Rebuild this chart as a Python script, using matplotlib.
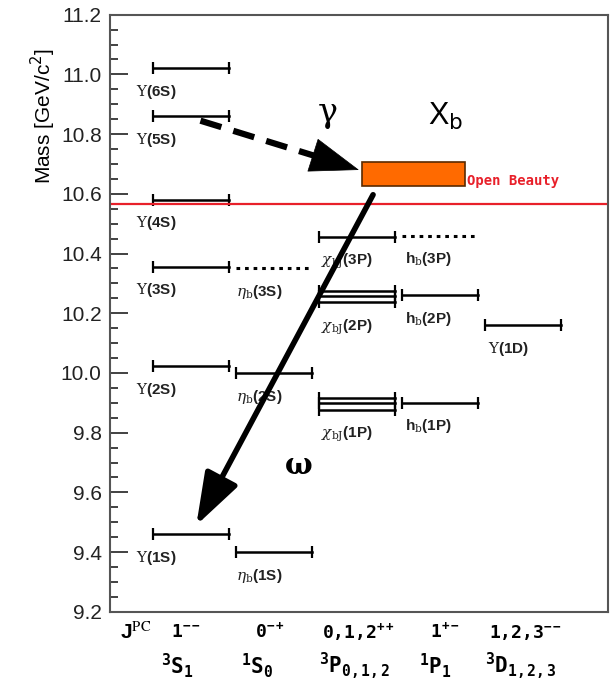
import numpy as np
import matplotlib as mpl
from matplotlib import pyplot as plt
from matplotlib.patches import Rectangle

mpl.rcParams['mathtext.fontset'] = 'stix'
mpl.rcParams['mathtext.rm'] = 'DejaVu Sans Mono:bold'
mpl.rcParams['mathtext.it'] = 'DejaVu Sans Mono:bold'
mpl.rcParams['mathtext.bf'] = 'DejaVu Sans Mono:bold'

# bottomonium levels (GeV/c^2)
ups_names = ['6S', '5S', '4S', '3S', '2S', '1S']
ups_mass = [11.02, 10.86, 10.58, 10.356, 10.023, 9.46]

eta_names = ['3S', '2S', '1S']
eta_mass = [10.35, 9.999, 9.40]
eta_dotted = [True, False, False]

chi_names = ['3P', '2P', '1P']
chi_mass = [[10.456], [10.275, 10.258, 10.238], [9.917, 9.899, 9.877]]

hb_names = ['3P', '2P', '1P']
hb_mass = [10.46, 10.26, 9.90]
hb_dotted = [True, False, False]

d_names = ['1D']
d_mass = [10.16]

open_beauty = 10.567
xb_mass = [10.627, 10.708]

jpc_labels = ['1$^{--}$', '0$^{-+}$', '0,1,2$^{++}$', '1$^{+-}$', '1,2,3$^{--}$']
term_labels = ['$^3$S$_1$', '$^1$S$_0$', '$^3$P$_{0,1,2}$', '$^1$P$_1$', '$^3$D$_{1,2,3}$']

# column layout
col_x0 = [0.52, 1.52, 2.52, 3.52, 4.52]
col_w = 0.92

fig = plt.figure(figsize=(6.11, 7.0), dpi=100)
ax = fig.add_axes([0.180, 0.126, 0.815, 0.853])
ax.set_xlim(0, 6)
ax.set_ylim(9.2, 11.2)


def level(col, m, dotted=False):
    x0 = col_x0[col]
    x1 = x0 + col_w
    if dotted:
        ax.plot([x0, x1], [m, m], color='k', lw=2.2, linestyle=(0, (1.2, 1.6)))
    else:
        ax.plot([x0, x1], [m, m], color='k', lw=1.8, marker='|', ms=8, mew=1.6)


def label(col, m, txt, dx=0.0, dy=-17):
    ax.annotate(txt, (col_x0[col], m), xytext=(dx, dy), textcoords='offset points',
                ha='left', va='center', fontsize=11, fontweight='bold',
                family='Liberation Sans', math_fontfamily='dejavuserif', color='#222222')


for n, m in zip(ups_names, ups_mass):
    level(0, m)
    label(0, m, r'$\Upsilon$' + '(' + n + ')', dx=-12)

for n, m, d in zip(eta_names, eta_mass, eta_dotted):
    level(1, m, d)
    label(1, m, r'$\eta_{\rm b}$' + '(' + n + ')', dx=0)

for n, ms in zip(chi_names, chi_mass):
    for m in ms:
        level(2, m)
    label(2, min(ms), r'$\chi_{\rm bJ}$' + '(' + n + ')', dx=1, dy=-18)

for n, m, d in zip(hb_names, hb_mass, hb_dotted):
    level(3, m, d)
    label(3, m, r'h$_{\rm b}$(' + n + ')', dx=2)

for n, m in zip(d_names, d_mass):
    level(4, m)
    label(4, m, r'$\Upsilon$' + '(' + n + ')', dx=2)

# open beauty threshold
ax.axhline(open_beauty, color='#e8202a', lw=1.6)
ax.text(4.30, open_beauty + 0.075, 'Open Beauty', color='#e8202a', fontsize=10,
        family='DejaVu Sans Mono', fontweight='bold', va='center', ha='left')

# X_b box
ax.add_patch(Rectangle((3.04, xb_mass[0]), 1.24, xb_mass[1] - xb_mass[0],
                       facecolor='#ff6a00', edgecolor='#5a2a00', lw=1.2, zorder=3))

# gamma transition: Y(5S) -> X_b (dashed)
g_tail = (1.09, 10.845)
g_head = (3.00, 10.68)
ax.plot([g_tail[0], 2.62], [g_tail[1], 10.714], color='k', lw=4.5,
        dashes=(3.5, 2.0), solid_capstyle='butt')
ax.annotate('', xy=g_head, xytext=(2.55, 10.72),
            arrowprops=dict(arrowstyle='-|>,head_length=1.7,head_width=0.6',
                            mutation_scale=20, color='k', lw=0.5,
                            shrinkA=0, shrinkB=0))

# omega transition: X_b -> Y(1S)
ax.annotate('', xy=(1.04, 9.49), xytext=(3.17, 10.597),
            arrowprops=dict(arrowstyle='-|>,head_length=1.6,head_width=0.55',
                            mutation_scale=20, color='k', lw=4,
                            shrinkA=0, shrinkB=0))

ax.text(2.62, 10.87, 'γ', fontsize=24, family='DejaVu Serif',
        ha='center', va='center')
ax.text(4.04, 10.86, r'X$_{\rm b}$', fontsize=22, family='Liberation Sans',
        math_fontfamily='dejavusans', ha='center', va='center')
ax.text(2.27, 9.69, 'ω', fontsize=21, family='DejaVu Serif',
        ha='center', va='center', fontweight='bold')

# axes styling
ax.set_xticks([])
ax.yaxis.set_major_locator(mpl.ticker.MultipleLocator(0.2))
ax.yaxis.set_minor_locator(mpl.ticker.MultipleLocator(0.05))
ax.yaxis.set_major_formatter(mpl.ticker.FormatStrFormatter('%.1f'))
ax.tick_params(axis='y', which='major', direction='in', length=13, width=1.3,
               labelsize=15, pad=6, colors='#333333')
ax.tick_params(axis='y', which='minor', direction='in', length=6, width=1.3,
               colors='#333333')
for lab in ax.get_yticklabels():
    lab.set_family('Liberation Sans')
    lab.set_color('#222222')
for sp in ax.spines.values():
    sp.set_color('#555555')
    sp.set_linewidth(1.5)
ax.set_ylabel('Mass [GeV/c$^2$]', fontsize=15, family='Liberation Sans',
              math_fontfamily='dejavusans', labelpad=2, y=0.83)

# quantum numbers below the axis
ax.text(0.02, -0.034, r'J$^{\rm PC}$', transform=ax.transAxes,
        fontsize=15, fontweight='bold', family='Liberation Sans',
        math_fontfamily='stix', va='center', ha='left')
jpc_x = [0.73, 1.75, 2.56, 3.85, 4.57]
term_x = [0.62, 1.58, 2.52, 3.72, 4.52]
for lab, x in zip(jpc_labels, jpc_x):
    ax.text(x, -0.034, lab, transform=ax.get_xaxis_transform(), fontsize=13,
            family='DejaVu Sans Mono', fontweight='bold', math_fontfamily='custom',
            va='center', ha='left')
for lab, x in zip(term_labels, term_x):
    ax.text(x, -0.09, lab, transform=ax.get_xaxis_transform(), fontsize=15,
            family='DejaVu Sans Mono', fontweight='bold', math_fontfamily='custom',
            va='center', ha='left')

fig.savefig('out.png', dpi=100)
